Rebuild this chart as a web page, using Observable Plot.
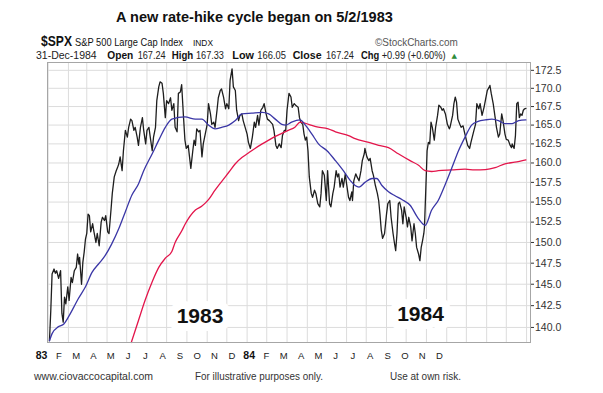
<!DOCTYPE html>
<html><head><meta charset="utf-8">
<script src="https://cdn.jsdelivr.net/npm/d3@7"></script>
<script src="https://cdn.jsdelivr.net/npm/@observablehq/plot@0.6"></script>
<style>
body{margin:0;background:#fff;}
#wrap{position:relative;width:603px;height:393px;overflow:hidden;background:#fff;}
#wrap svg{position:absolute;left:0;}
</style></head><body><div id="wrap"></div>
<script>
// ---- S&P 500 daily close ----
const spxDates = [
"1983-01-03","1983-01-05","1983-01-07","1983-01-10","1983-01-12","1983-01-14","1983-01-17","1983-01-20","1983-01-22","1983-01-24",
"1983-01-26","1983-01-28","1983-01-31","1983-02-02","1983-02-05","1983-02-07","1983-02-10","1983-02-13","1983-02-15","1983-02-17",
"1983-02-18","1983-02-21","1983-02-23","1983-02-25","1983-02-27","1983-03-01","1983-03-03","1983-03-05","1983-03-07","1983-03-10",
"1983-03-12","1983-03-15","1983-03-17","1983-03-20","1983-03-23","1983-03-25","1983-03-28","1983-03-30","1983-04-02","1983-04-04",
"1983-04-07","1983-04-09","1983-04-12","1983-04-15","1983-04-17","1983-04-19","1983-04-21","1983-04-24","1983-04-26","1983-04-29",
"1983-05-02","1983-05-04","1983-05-07","1983-05-09","1983-05-12","1983-05-14","1983-05-17","1983-05-19","1983-05-22","1983-05-25",
"1983-05-27","1983-05-30","1983-06-01","1983-06-04","1983-06-06","1983-06-09","1983-06-11","1983-06-14","1983-06-16","1983-06-19",
"1983-06-21","1983-06-24","1983-06-26","1983-06-29","1983-07-01","1983-07-04","1983-07-07","1983-07-09","1983-07-12","1983-07-14",
"1983-07-17","1983-07-19","1983-07-22","1983-07-24","1983-07-27","1983-07-29","1983-07-31","1983-08-03","1983-08-05","1983-08-07",
"1983-08-10","1983-08-12","1983-08-14","1983-08-16","1983-08-19","1983-08-21","1983-08-24","1983-08-26","1983-08-29","1983-09-01",
"1983-09-03","1983-09-06","1983-09-08","1983-09-11","1983-09-13","1983-09-16","1983-09-18","1983-09-21","1983-09-23","1983-09-26",
"1983-09-29","1983-10-01","1983-10-04","1983-10-06","1983-10-09","1983-10-11","1983-10-14","1983-10-16","1983-10-19","1983-10-21",
"1983-10-24","1983-10-26","1983-10-29","1983-11-01","1983-11-03","1983-11-06","1983-11-09","1983-11-12","1983-11-14","1983-11-17",
"1983-11-19","1983-11-22","1983-11-25","1983-11-27","1983-11-30","1983-12-02","1983-12-05","1983-12-07","1983-12-10","1983-12-12",
"1983-12-15","1983-12-17","1983-12-20","1983-12-23","1983-12-25","1983-12-28","1983-12-30",
"1984-01-01","1984-01-04","1984-01-07","1984-01-09","1984-01-12","1984-01-15","1984-01-18","1984-01-20","1984-01-22","1984-01-25",
"1984-01-27","1984-01-29","1984-01-31","1984-02-02","1984-02-04","1984-02-07","1984-02-09","1984-02-12","1984-02-14","1984-02-17",
"1984-02-20","1984-02-22","1984-02-24","1984-02-27","1984-03-01","1984-03-03","1984-03-06","1984-03-08","1984-03-11","1984-03-13",
"1984-03-16","1984-03-18","1984-03-20","1984-03-22","1984-03-25","1984-03-27","1984-03-30","1984-04-01","1984-04-04","1984-04-06",
"1984-04-09","1984-04-10","1984-04-12","1984-04-15","1984-04-17","1984-04-20","1984-04-23","1984-04-25","1984-04-28","1984-04-29",
"1984-05-02","1984-05-05","1984-05-07","1984-05-10","1984-05-12","1984-05-15","1984-05-18","1984-05-20","1984-05-22","1984-05-24",
"1984-05-26","1984-05-29","1984-06-01","1984-06-03","1984-06-06","1984-06-08","1984-06-11","1984-06-13","1984-06-15","1984-06-17",
"1984-06-19","1984-06-21","1984-06-24","1984-06-26","1984-06-28","1984-07-01","1984-07-03","1984-07-05","1984-07-08","1984-07-10",
"1984-07-13","1984-07-15","1984-07-17","1984-07-20","1984-07-22","1984-07-24","1984-07-26","1984-07-28","1984-07-29","1984-08-01",
"1984-08-02","1984-08-04","1984-08-06","1984-08-08","1984-08-10","1984-08-13","1984-08-15","1984-08-18","1984-08-20","1984-08-23",
"1984-08-25","1984-08-27","1984-08-30","1984-09-02","1984-09-05","1984-09-06","1984-09-10","1984-09-12","1984-09-14","1984-09-16",
"1984-09-18","1984-09-21","1984-09-23","1984-09-26","1984-09-28","1984-10-01","1984-10-03","1984-10-06","1984-10-08","1984-10-10",
"1984-10-12","1984-10-15","1984-10-17","1984-10-20","1984-10-22","1984-10-25","1984-10-28","1984-10-30","1984-11-02","1984-11-05",
"1984-11-06","1984-11-08","1984-11-11","1984-11-14","1984-11-16","1984-11-19","1984-11-21","1984-11-24","1984-11-26","1984-11-29",
"1984-12-01","1984-12-04","1984-12-07","1984-12-09","1984-12-10","1984-12-13","1984-12-15","1984-12-17","1984-12-19","1984-12-21",
"1984-12-23","1984-12-25","1984-12-27","1984-12-29","1984-12-31"
];
const spxClose = [
138.5,141.9,146.2,146.8,146.3,146.6,145.7,146.6,141.6,140.6,
143.5,142.7,144.7,143.1,145.8,145.2,146.6,147.0,148.6,147.4,
148.2,145.0,147.6,148.8,150.4,151.1,153.5,153.3,151.3,152.3,
151.3,150.0,151.1,149.6,152.5,153.1,152.7,153.3,151.3,151.1,
154.0,156.1,158.2,159.0,159.4,159.9,160.8,159.0,161.6,164.3,
163.4,164.7,165.8,165.6,164.3,164.7,163.4,162.3,164.7,166.0,
164.3,162.5,164.3,164.7,163.4,161.6,163.4,164.7,168.3,170.2,
170.9,170.7,169.3,166.0,168.3,167.9,168.7,167.0,167.9,164.7,
164.1,169.3,169.5,170.5,165.8,163.0,161.9,162.3,160.8,159.3,
161.6,163.0,162.3,164.5,164.1,164.3,160.8,162.5,163.8,165.1,
167.9,166.5,165.1,165.4,164.7,167.0,168.7,169.7,169.9,168.8,
167.2,167.9,167.2,171.1,172.7,170.2,169.7,167.0,165.6,166.3,
166.5,165.6,164.7,163.8,162.7,161.9,163.4,165.4,164.7,166.3,
165.0,167.0,167.4,167.9,166.5,165.8,165.6,165.4,165.1,164.3,
162.3,161.9,162.5,162.0,163.6,164.3,164.3,
167.0,169.3,168.8,167.4,167.9,167.6,167.4,166.0,165.4,165.1,
163.8,163.0,163.4,161.6,158.2,156.1,155.6,156.5,156.1,154.8,
154.4,156.1,159.0,158.4,155.2,159.0,154.8,154.4,156.1,156.9,
159.0,158.2,158.6,156.9,158.0,156.9,158.6,157.3,155.6,155.2,
156.3,155.2,157.7,158.6,158.2,157.7,159.0,160.3,161.2,161.9,
160.8,160.3,160.6,159.0,158.4,157.1,156.1,155.2,153.5,151.5,
150.5,151.1,153.5,154.8,155.2,153.1,151.1,150.0,149.0,151.1,
154.8,155.0,154.0,152.3,154.4,153.1,151.9,153.1,151.9,150.2,
152.3,151.1,149.4,148.6,147.8,149.4,150.2,151.1,151.9,159.0,
161.6,162.7,162.5,165.4,164.7,163.0,164.7,166.3,167.7,167.4,
167.0,167.2,166.5,165.1,164.5,164.7,166.3,167.9,168.8,168.1,
165.8,165.1,164.7,164.9,164.1,163.0,162.3,161.9,162.7,163.4,
164.1,165.1,167.9,167.2,167.9,166.3,167.4,168.3,169.7,170.2,
170.4,169.3,167.9,166.0,164.7,163.4,163.8,166.5,165.6,163.8,
163.1,163.0,162.3,162.0,162.5,161.9,163.6,167.9,168.1,166.0,
166.5,166.3,167.0,167.2,167.24
];

// ---- 50-day moving average (blue) ----
const ma50Dates = [
"1983-01-03","1983-01-07","1983-01-17","1983-01-25","1983-02-01","1983-02-09","1983-02-16","1983-02-27","1983-03-09","1983-03-19",
"1983-03-29","1983-04-08","1983-04-19","1983-04-29","1983-05-09","1983-05-19","1983-05-27","1983-06-09","1983-06-19","1983-06-29",
"1983-07-09","1983-07-29","1983-08-14","1983-08-24","1983-09-03","1983-09-13","1983-09-23","1983-10-04","1983-10-14","1983-10-24",
"1983-11-08","1983-11-24","1983-12-04","1983-12-14","1983-12-24","1983-12-30","1984-01-08","1984-01-21","1984-01-29","1984-02-08",
"1984-02-18","1984-03-02","1984-03-15","1984-03-27","1984-04-07","1984-04-14","1984-04-20","1984-04-29","1984-05-10","1984-05-17",
"1984-05-25","1984-06-04","1984-06-14","1984-06-25","1984-07-07","1984-07-20","1984-07-30","1984-08-09","1984-08-19","1984-08-30",
"1984-09-09","1984-09-19","1984-09-29","1984-10-09","1984-10-19","1984-10-30","1984-11-09","1984-11-19","1984-11-29","1984-12-10",
"1984-12-20","1984-12-31"
];
const ma50Values = [
138.5,139.3,140.1,140.4,141.2,142.3,143.3,144.7,146.4,147.4,
148.4,149.8,151.7,153.8,155.9,157.3,159.0,161.2,163.0,164.7,
165.8,166.1,165.8,165.8,165.0,164.5,164.7,165.0,165.6,166.5,
166.6,166.7,166.5,165.8,165.1,165.0,165.4,165.7,165.0,163.8,
162.5,161.6,160.3,159.0,157.7,157.1,156.9,157.5,158.0,158.0,
157.1,156.3,155.8,155.3,154.6,152.9,152.1,154.0,155.2,157.3,
159.4,161.6,163.4,165.0,165.5,165.7,165.8,165.6,165.2,165.2,
165.6,165.7
];

// ---- 200-day moving average (red) ----
const ma200Dates = [
"1983-05-08","1983-05-19","1983-05-29","1983-06-09","1983-06-19","1983-06-29","1983-07-09","1983-07-14","1983-07-24","1983-07-29",
"1983-08-14","1983-08-24","1983-09-03","1983-09-13","1983-09-23","1983-10-04","1983-10-14","1983-10-24","1983-11-03","1983-11-13",
"1983-11-24","1983-12-04","1983-12-14","1983-12-24","1984-01-03","1984-01-13","1984-01-21","1984-02-03","1984-02-14","1984-03-04",
"1984-03-15","1984-04-04","1984-04-14","1984-05-05","1984-05-20","1984-06-04","1984-06-19","1984-07-07","1984-07-20","1984-07-30",
"1984-08-09","1984-08-19","1984-09-09","1984-09-29","1984-10-14","1984-10-30","1984-11-14","1984-11-29","1984-12-14","1984-12-31"
];
const ma200Values = [
138.3,140.8,143.1,145.3,147.0,148.1,148.9,150.0,151.4,152.2,
154.0,154.5,155.3,156.5,157.6,158.8,159.9,160.7,161.3,161.9,
162.5,163.0,163.5,163.9,164.3,164.7,165.4,165.1,164.8,164.5,
164.1,163.6,163.2,162.7,162.3,162.0,161.2,160.3,159.7,159.0,
158.9,159.0,159.1,159.2,159.1,159.15,159.4,159.9,160.1,160.4
];

// ---- axes, labels, annotations ----
const yTicks = [140,142.5,145,147.5,150,152.5,155,157.5,160,162.5,165,167.5,170,172.5];
const monthLabels = ["83","F","M","A","M","J","J","A","S","O","N","D","84","F","M","A","M","J","J","A","S","O","N","D"];
const yearNotes = ["1983","1984"];
const yearNoteDates = ["1983-08-21","1984-07-23"];
const yearNoteValues = [141.3,141.55];

const rows = (ds, vs) => ds.map((d, i) => ({date: new Date(d), value: vs[i]}));
const spx = rows(spxDates, spxClose);
const ma50 = rows(ma50Dates, ma50Values);
const ma200 = rows(ma200Dates, ma200Values);
const notes = yearNotes.map((t, i) => ({label: t, date: new Date(yearNoteDates[i]), value: yearNoteValues[i]}));
const gridMonths = d3.utcMonth.range(new Date("1983-01-01"), new Date("1985-01-02"));

const FONT = "Liberation Sans, Arial, Helvetica, sans-serif";
const wrap = document.getElementById("wrap");

const chart = Plot.plot({
  width: 603, height: 393,
  marginLeft: 47, marginRight: 73, marginTop: 62, marginBottom: 51,
  style: {fontFamily: FONT, fontSize: "10.5px", color: "#333", background: "transparent"},
  x: {type: "utc", domain: [new Date("1982-12-31"), new Date("1985-01-07")], axis: null},
  y: {type: "log", domain: [138.3, 173.6], axis: "right", ticks: yTicks,
      tickFormat: d => d.toFixed(1), tickSize: 3, tickPadding: 1.5, label: null},
  marks: [
    Plot.ruleX(gridMonths, {stroke: "#dcdcdc", strokeWidth: 1}),
    Plot.ruleY(yTicks, {stroke: "#dcdcdc", strokeWidth: 1}),
    Plot.text(notes, {x: "date", y: "value", text: "label", fontSize: 21, fontWeight: "bold",
      fill: "#111", stroke: "white", strokeWidth: 16, paintOrder: "stroke"}),
    Plot.line(spx, {x: "date", y: "value", stroke: "#1e1e1e", strokeWidth: 1.3}),
    Plot.line(ma200, {x: "date", y: "value", stroke: "#e3154b", strokeWidth: 1.3, curve: "monotone-x"}),
    Plot.line(ma50, {x: "date", y: "value", stroke: "#3a36a6", strokeWidth: 1.3, curve: "monotone-x"}),
    Plot.frame({stroke: "#a6a6a6"})
  ]
});
chart.style.top = "0px";
wrap.appendChild(chart);

const axisRow = Plot.plot({
  width: 603, height: 20, margin: 0,
  style: {fontFamily: FONT, background: "transparent"},
  x: {domain: [0, monthLabels.length - 1], range: [41, 439], axis: null},
  y: {axis: null},
  marks: [
    Plot.text(monthLabels, {x: (d, i) => i, text: d => d, filter: d => !/^\d/.test(d), fontSize: 9.5, fill: "#222"}),
    Plot.text(monthLabels, {x: (d, i) => i, text: d => d, filter: d => /^\d/.test(d), fontSize: 10.5, fontWeight: "bold", fill: "#111"})
  ]
});
axisRow.style.top = "345px";
wrap.appendChild(axisRow);

// ---- header / footer texts (x, baseline y, target width, visual size) ----
const texts = [
  {t: "A new rate-hike cycle began on 5/2/1983", x: 116, y: 22, w: 277, s: 15.5, b: true, f: "#111"},
  {t: "$SPX", x: 41, y: 46.3, w: 31, s: 14, b: true, f: "#111"},
  {t: "S&P 500 Large Cap Index", x: 75, y: 46.2, w: 108, s: 11, f: "#111"},
  {t: "INDX", x: 193, y: 46.2, w: 20, s: 9.5, f: "#111"},
  {t: "©StockCharts.com", x: 375, y: 46, w: 83, s: 11, f: "#555"},
  {t: "31-Dec-1984", x: 36, y: 59.2, w: 60.7, s: 10.5, f: "#222"},
  {t: "Open", x: 107.3, y: 59.2, w: 26, s: 11, b: true, f: "#111"},
  {t: "167.24", x: 137.7, y: 59.2, w: 28, s: 10.5, f: "#222"},
  {t: "High", x: 171.7, y: 59.2, w: 21.6, s: 11, b: true, f: "#111"},
  {t: "167.33", x: 196, y: 59.2, w: 28, s: 10.5, f: "#222"},
  {t: "Low", x: 232.3, y: 59.2, w: 21.7, s: 11, b: true, f: "#111"},
  {t: "166.05", x: 257.3, y: 59.2, w: 28.7, s: 10.5, f: "#222"},
  {t: "Close", x: 292.7, y: 59.2, w: 29, s: 11, b: true, f: "#111"},
  {t: "167.24", x: 326, y: 59.2, w: 28, s: 10.5, f: "#222"},
  {t: "Chg", x: 361, y: 59.2, w: 18.3, s: 11, b: true, f: "#111"},
  {t: "+0.99 (+0.60%)", x: 381.7, y: 59.2, w: 64, s: 10.5, f: "#222"},
  {t: "▲", x: 451.5, y: 58, w: 5.5, s: 6.5, f: "#2e8b3a"},
  {t: "www.ciovaccocapital.com", x: 34, y: 380, w: 119, s: 11, f: "#333"},
  {t: "For illustrative purposes only.", x: 195, y: 380, w: 128, s: 11, f: "#333"},
  {t: "Use at own risk.", x: 390, y: 380, w: 71, s: 11, f: "#333"}
];
const NS = "http://www.w3.org/2000/svg";
const ov = document.createElementNS(NS, "svg");
ov.setAttribute("width", 603); ov.setAttribute("height", 393);
ov.style.top = "0px"; ov.style.pointerEvents = "none";
wrap.appendChild(ov);
for (const d of texts) {
  const el = document.createElementNS(NS, "text");
  el.setAttribute("x", 0); el.setAttribute("y", 0);
  el.setAttribute("font-family", d.t === "▲" ? "DejaVu Sans, sans-serif" : FONT);
  el.setAttribute("font-size", d.s);
  if (d.b) el.setAttribute("font-weight", "bold");
  el.setAttribute("fill", d.f);
  el.textContent = d.t;
  ov.appendChild(el);
  // fit the natural width to the target width, then restore the visual height
  const natural = el.getComputedTextLength() || d.w;
  const fit = d.s * d.w / natural;
  el.setAttribute("font-size", fit.toFixed(2));
  el.setAttribute("transform", `translate(${d.x},${d.y}) scale(1,${(d.s / fit).toFixed(3)})`);
}
</script>
</body></html>
